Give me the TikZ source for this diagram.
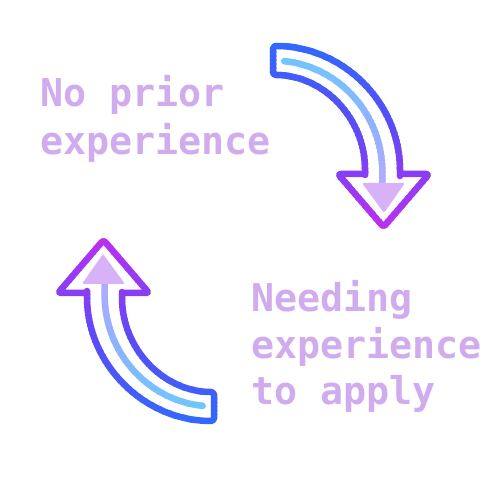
\documentclass[tikz,border=0pt]{standalone}
\usepackage{fontspec}
\newfontfamily\labelfont{DejaVu Sans Mono}
\definecolor{outA}{HTML}{2D6CFF}
\definecolor{outB}{HTML}{5A4BF6}
\definecolor{outC}{HTML}{C42DF2}
\definecolor{litA}{HTML}{66CCFF}
\definecolor{litB}{HTML}{8FB2FF}
\definecolor{litC}{HTML}{CDA8F8}
\definecolor{trifill}{HTML}{D8B2F8}
\definecolor{txtcol}{HTML}{D0ACEE}
\newcommand\arrowOutline[1]{\draw[#1] (273,454) arc[start angle=90,end angle=0,radius=127] -- (400,326) -- (429,326) -- (383.5,273) -- (338,326) -- (365,326) -- (365,328) arc[start angle=0,end angle=90,x radius=92,y radius=97] -- cycle;}
\newcommand\lightLine[1]{\draw[#1] (284.3,438.9) arc[start angle=84,end angle=0,x radius=109.5,y radius=111.5] -- (382.5,314);}
\newcommand\oneArrow{%
  \foreach \i in {0,...,49}{%
    \pgfmathsetmacro\ytop{464-4*\i}%
    \pgfmathsetmacro\ybot{\ytop-4.8}%
    \pgfmathsetmacro\tval{(\i+0.5)/50}%
    \ifdim\tval pt<0.45pt
      \pgfmathtruncatemacro\pp{\tval/0.45*100}%
      \colorlet{outCur}{outB!\pp!outA}%
      \colorlet{litCur}{litB!\pp!litA}%
    \else
      \pgfmathtruncatemacro\pp{(\tval-0.45)/0.55*100}%
      \colorlet{outCur}{outC!\pp!outB}%
      \colorlet{litCur}{litC!\pp!litB}%
    \fi
    \begin{scope}
      \clip (255,\ybot) rectangle (445,\ytop);
      \arrowOutline{outCur, line width=6.5pt, line join=round, rounded corners=3pt}
      \lightLine{litCur, line width=6.5pt, line cap=round}
    \end{scope}
  }%
  \fill[trifill, rounded corners=2pt] (362,317) -- (405,317) -- (384,287) -- cycle;
}
\begin{document}
\begin{tikzpicture}[x=1pt,y=1pt,
  txt/.style={inner sep=0pt, anchor=base west, text=txtcol, font=\labelfont\bfseries\fontsize{38.3}{46}\selectfont}]
\useasboundingbox (0,0) rectangle (500,500);
\fill[white] (0,0) rectangle (500,500);
\oneArrow
\begin{scope}[rotate around={180:(243.5,266.5)}]
\oneArrow
\end{scope}
\node[txt] (t1a) at (40,393) {No prior};
\node[txt] (t1b) at (40,345) {experience};
\node[txt] (t2a) at (251,188.5) {Needing};
\node[txt] (t2b) at (251,141.5) {experience};
\node[txt] (t2c) at (251,95) {to apply};
\end{tikzpicture}
\end{document}
